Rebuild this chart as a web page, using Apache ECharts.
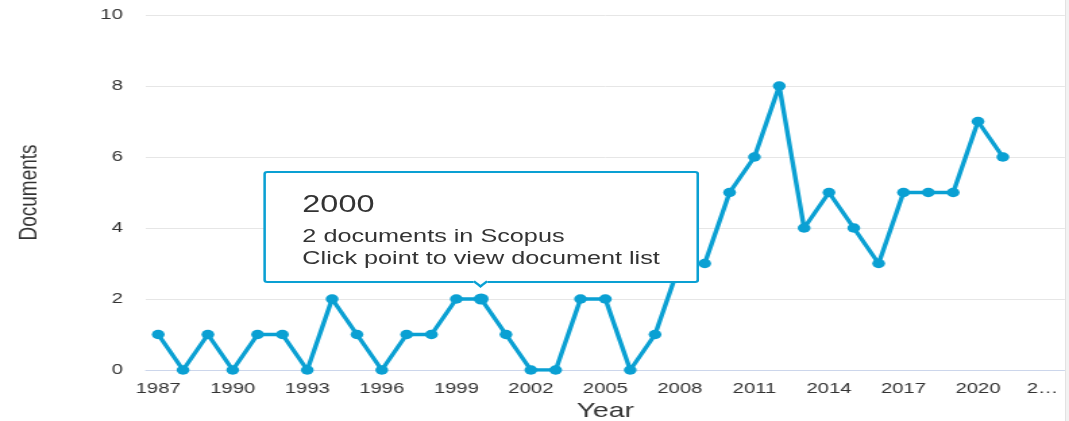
<!DOCTYPE html>
<html>
<head>
<meta charset="utf-8">
<script src="https://cdn.jsdelivr.net/npm/echarts@6/dist/echarts.min.js"></script>
<style>
  html, body { margin: 0; padding: 0; background: #fff; overflow: hidden; }
  #wrap { position: relative; width: 1069px; height: 421px; overflow: hidden; }
  #chart { position: absolute; left: 0; top: 0; width: 792px; height: 421px;
           transform: scaleX(1.34975); transform-origin: 0 0; }
  #edge { position: absolute; left: 1065px; top: 0; width: 3px; height: 421px;
          background: #f2f2f2; border-left: 1px solid #e2e2e2; }
</style>
</head>
<body>
<div id="wrap">
  <div id="chart"></div>
  <div id="edge"></div>
</div>
<script>
// ---- data ----
const years = ['1987','1988','1989','1990','1991','1992','1993','1994','1995','1996',
  '1997','1998','1999','2000','2001','2002','2003','2004','2005','2006','2007','2008',
  '2009','2010','2011','2012','2013','2014','2015','2016','2017','2018','2019','2020',
  '2021','2022','2023'];
const documents = [1,0,1,0,1,1,0,2,1,0,1,1,2,2,1,0,0,2,2,0,1,3,3,5,6,8,4,5,4,3,5,5,5,7,6];
const yTicks = [0, 2, 4, 6, 8, 10];
const xAxisTitle = 'Year';
const yAxisTitle = 'Documents';
const tooltipYear = '2000';
const tooltipLine2 = ' documents in Scopus';
const tooltipLine3 = 'Click point to view document list';

const blue = '#0aa0d3';
const font = "'Liberation Sans', Arial, sans-serif";

const seriesData = documents.map(function (v, i) {
  return years[i] === tooltipYear ? { value: v, symbolSize: 11 } : v;
});

const chart = echarts.init(document.getElementById('chart'), null, { renderer: 'canvas' });

chart.setOption({
  animation: false,
  backgroundColor: '#fff',
  grid: { left: 108, right: 3, top: 15, bottom: 51, containLabel: false, outerBoundsMode: 'none' },
  tooltip: {
    trigger: 'item',
    triggerOn: 'none',
    alwaysShowContent: true,
    position: 'top',
    transitionDuration: 0,
    backgroundColor: '#fff',
    borderColor: blue,
    borderWidth: 2,
    borderRadius: 3,
    padding: [16, 27, 12, 27],
    extraCssText: 'box-shadow:none;',
    textStyle: { fontFamily: font, color: '#333' },
    formatter: function (p) {
      return '<div style="font-family:' + font.replace(/'/g, '') + ';color:#333;white-space:nowrap;">' +
        '<div style="font-size:24px;line-height:30px;margin-bottom:6px;">' + p.name + '</div>' +
        '<div style="font-size:18.7px;line-height:22px;">' + p.value + tooltipLine2 + '</div>' +
        '<div style="font-size:18.7px;line-height:22px;">' + tooltipLine3 + '</div></div>';
    }
  },
  xAxis: {
    type: 'category',
    data: years,
    boundaryGap: true,
    name: xAxisTitle,
    nameLocation: 'middle',
    nameGap: 31,
    nameTextStyle: { fontFamily: font, fontSize: 21, color: '#333' },
    axisLine: { show: true, lineStyle: { color: '#ccd6eb', width: 1 } },
    axisTick: { show: false },
    axisLabel: {
      interval: 2,
      margin: 11,
      fontFamily: font,
      fontSize: 15,
      color: '#333',
      formatter: function (v) {
        return v === years[years.length - 1] ? '{e|' + v.charAt(0) + '…}' : v;
      },
      rich: { e: { fontFamily: font, fontSize: 15, color: '#333', padding: [0, 15, 0, 0] } }
    },
    splitLine: { show: false }
  },
  yAxis: {
    type: 'value',
    min: yTicks[0],
    max: yTicks[yTicks.length - 1],
    interval: 2,
    name: yAxisTitle,
    nameLocation: 'middle',
    nameGap: 77,
    nameRotate: 90,
    nameTextStyle: { fontFamily: font, fontSize: 19, color: '#333' },
    axisLine: { show: false },
    axisTick: { show: false },
    axisLabel: { margin: 17, fontFamily: font, fontSize: 15, color: '#333' },
    splitLine: { show: true, lineStyle: { color: '#e6e6e6', width: 1 } }
  },
  series: [{
    type: 'line',
    data: seriesData,
    symbol: 'circle',
    symbolSize: 9.5,
    showSymbol: true,
    itemStyle: { color: blue },
    lineStyle: { color: blue, width: 3.4 },
    emphasis: { disabled: true }
  }]
});

function showTip() {
  chart.dispatchAction({ type: 'showTip', seriesIndex: 0, dataIndex: years.indexOf(tooltipYear) });
}
showTip();
setTimeout(showTip, 0);
</script>
</body>
</html>
